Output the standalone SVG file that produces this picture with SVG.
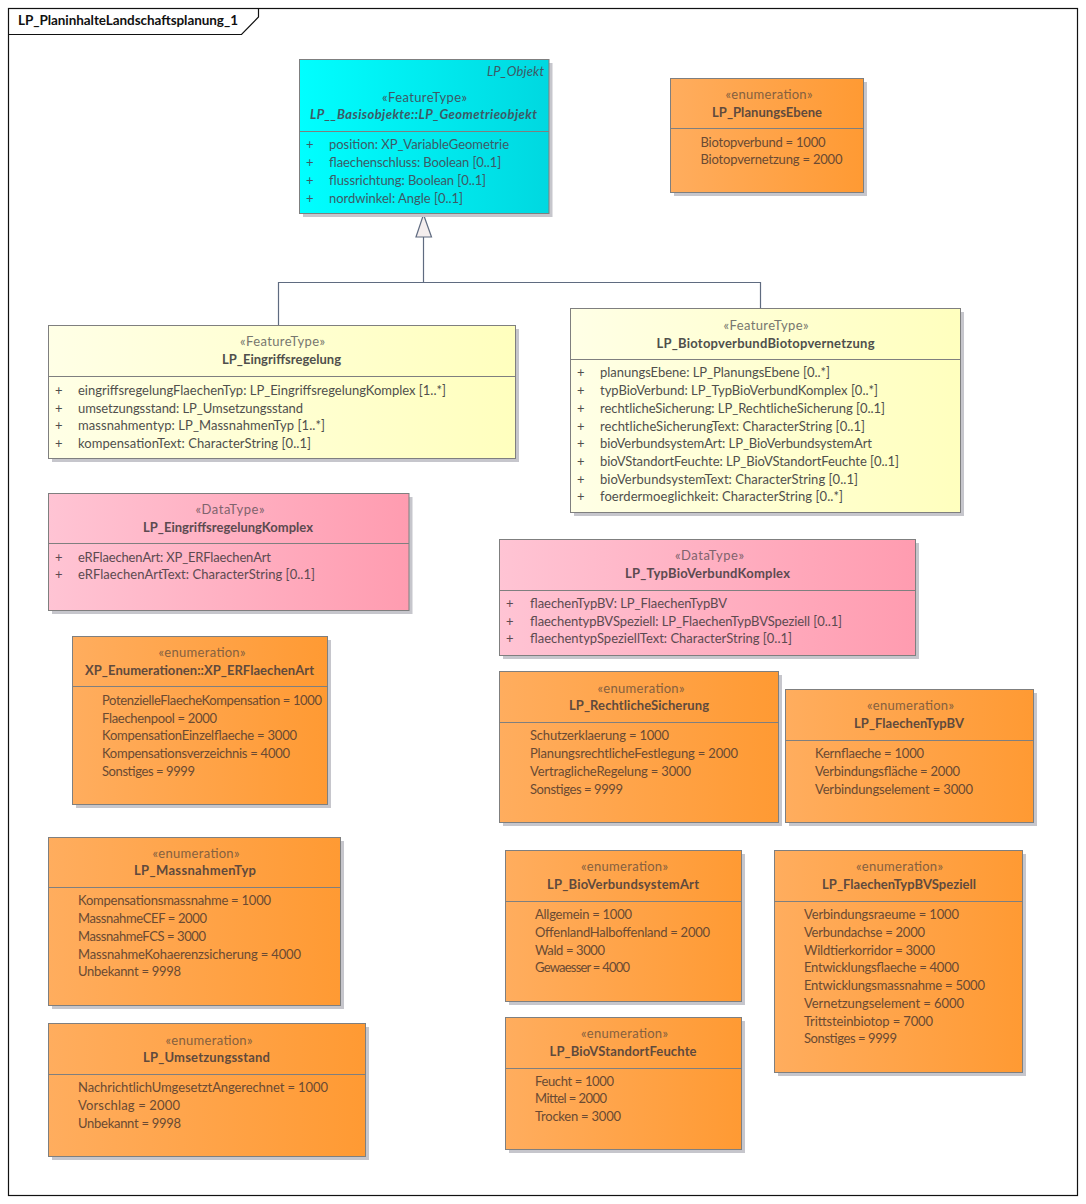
<svg xmlns="http://www.w3.org/2000/svg" width="1086" height="1204" viewBox="0 0 1086 1204">
<style>
text{font-family:Lato,"Liberation Sans",sans-serif;font-size:13px;fill:#4f4f4c}
.c{text-anchor:middle}
.b{font-weight:700}
.i{font-style:italic}
.s{fill:#77776f}
.box{stroke:#7f7f7f;stroke-width:1}
.sh{fill:#c6c6cc}
.d{stroke:#7f7f7f;stroke-width:1}
.en{fill:url(#or)}.ft{fill:url(#ye)}.dt{fill:url(#pk)}.cy{fill:url(#cy)}
g.o text{fill:#6a4a33}
g.o text.s{fill:#85603f}
g.o text.b{fill:#5f4a3d}
g.p text{fill:#5c4a50}
g.p text.s{fill:#80636d}
g.q text{fill:#3d5a66}
.ln{fill:none;stroke:#5f6b80;stroke-width:1.2}
</style>
<defs>
<linearGradient id="or"><stop offset="0" stop-color="#ffad5e"/><stop offset="1" stop-color="#ff9a33"/></linearGradient>
<linearGradient id="ye"><stop offset="0" stop-color="#ffffe6"/><stop offset="1" stop-color="#ffffbe"/></linearGradient>
<linearGradient id="pk"><stop offset="0" stop-color="#ffc4d4"/><stop offset="1" stop-color="#ff9cb0"/></linearGradient>
<linearGradient id="cy"><stop offset="0" stop-color="#00ffff"/><stop offset="1" stop-color="#00d8e0"/></linearGradient>
</defs>
<rect width="1086" height="1204" fill="#fff"/>
<g id="frame">
<rect x="8.500" y="8.500" width="1069" height="1187" fill="none" stroke="#111" stroke-width="1.200"/>
<path d="M8.500 34.500H241.500L258.500 17V8.500" fill="none" stroke="#111" stroke-width="1.200"/>
<text x="18" y="25" style="font-size:13.500px;fill:#111" class="b" textLength="220">LP_PlaninhalteLandschaftsplanung_1</text>
</g>
<g id="connectors">
<path class="ln" d="M423.500 237V282.500M278.500 325V282.500H760.500V308"/>
<path d="M423.500 214.500L431.500 237H416Z" fill="#f4eeee" stroke="#5f6b80" stroke-width="1.200"/>
</g>
<g id="LP_Geometrieobjekt" class="q">
<rect class="sh" x="303" y="63" width="249.500" height="154"/>
<rect class="box cy" x="299.500" y="59.500" width="249.500" height="154"/>
<path class="d" d="M299.500 131.500H549"/>
<text class="i" x="544" y="76" text-anchor="end" textLength="57">LP_Objekt</text>
<text class="c s" x="424.500" y="102" textLength="85">«FeatureType»</text>
<text class="c b i" x="423.500" y="119" textLength="227">LP__Basisobjekte::LP_Geometrieobjekt</text>
<text x="306" y="149">+</text><text x="329" y="149" textLength="180">position: XP_VariableGeometrie</text>
<text x="306" y="167">+</text><text x="329" y="167" textLength="172">flaechenschluss: Boolean [0..1]</text>
<text x="306" y="185">+</text><text x="329" y="185" textLength="157">flussrichtung: Boolean [0..1]</text>
<text x="306" y="203">+</text><text x="329" y="203" textLength="134">nordwinkel: Angle [0..1]</text>
</g>
<g id="LP_PlanungsEbene" class="o">
<rect class="sh" x="674" y="82" width="193" height="114"/>
<rect class="box en" x="670.500" y="78.500" width="193" height="114"/>
<path class="d" d="M670.500 128.500H863.500"/>
<text class="c s" x="769" y="99" textLength="87">«enumeration»</text>
<text class="c b" x="767" y="117" textLength="110">LP_PlanungsEbene</text>
<text x="700.500" y="147" textLength="125">Biotopverbund = 1000</text>
<text x="700.500" y="164" textLength="142">Biotopvernetzung = 2000</text>
</g>
<g id="LP_Eingriffsregelung">
<rect class="sh" x="52" y="329" width="467" height="133"/>
<rect class="box ft" x="48.500" y="325.500" width="467" height="133"/>
<path class="d" d="M48.500 376.500H515.500"/>
<text class="c s" x="282.500" y="346" textLength="85">«FeatureType»</text>
<text class="c b" x="281.500" y="364" textLength="119">LP_Eingriffsregelung</text>
<text x="55" y="395">+</text><text x="78" y="395" textLength="368">eingriffsregelungFlaechenTyp: LP_EingriffsregelungKomplex [1..*]</text>
<text x="55" y="413">+</text><text x="78" y="413" textLength="225">umsetzungsstand: LP_Umsetzungsstand</text>
<text x="55" y="430">+</text><text x="78" y="430" textLength="247">massnahmentyp: LP_MassnahmenTyp [1..*]</text>
<text x="55" y="448">+</text><text x="78" y="448" textLength="233">kompensationText: CharacterString [0..1]</text>
</g>
<g id="LP_BiotopverbundBiotopvernetzung">
<rect class="sh" x="574" y="312" width="390" height="204"/>
<rect class="box ft" x="570.500" y="308.500" width="390" height="204"/>
<path class="d" d="M570.500 359.500H960.500"/>
<text class="c s" x="766" y="330" textLength="85">«FeatureType»</text>
<text class="c b" x="765.500" y="348" textLength="218">LP_BiotopverbundBiotopvernetzung</text>
<text x="577" y="377">+</text><text x="600" y="377" textLength="230">planungsEbene: LP_PlanungsEbene [0..*]</text>
<text x="577" y="395">+</text><text x="600" y="395" textLength="278">typBioVerbund: LP_TypBioVerbundKomplex [0..*]</text>
<text x="577" y="413">+</text><text x="600" y="413" textLength="285">rechtlicheSicherung: LP_RechtlicheSicherung [0..1]</text>
<text x="577" y="431">+</text><text x="600" y="431" textLength="265">rechtlicheSicherungText: CharacterString [0..1]</text>
<text x="577" y="448">+</text><text x="600" y="448" textLength="272">bioVerbundsystemArt: LP_BioVerbundsystemArt</text>
<text x="577" y="466">+</text><text x="600" y="466" textLength="299">bioVStandortFeuchte: LP_BioVStandortFeuchte [0..1]</text>
<text x="577" y="484">+</text><text x="600" y="484" textLength="258">bioVerbundsystemText: CharacterString [0..1]</text>
<text x="577" y="501">+</text><text x="600" y="501" textLength="243">foerdermoeglichkeit: CharacterString [0..*]</text>
</g>
<g id="LP_EingriffsregelungKomplex" class="p">
<rect class="sh" x="52" y="497" width="360.500" height="117"/>
<rect class="box dt" x="48.500" y="493.500" width="360.500" height="117"/>
<path class="d" d="M48.500 543.500H409"/>
<text class="c s" x="230" y="514" textLength="69">«DataType»</text>
<text class="c b" x="228" y="532" textLength="170">LP_EingriffsregelungKomplex</text>
<text x="55" y="562">+</text><text x="78" y="562" textLength="193">eRFlaechenArt: XP_ERFlaechenArt</text>
<text x="55" y="579">+</text><text x="78" y="579" textLength="237">eRFlaechenArtText: CharacterString [0..1]</text>
</g>
<g id="LP_TypBioVerbundKomplex" class="p">
<rect class="sh" x="503" y="543" width="416" height="116"/>
<rect class="box dt" x="499.500" y="539.500" width="416" height="116"/>
<path class="d" d="M499.500 590.500H915.500"/>
<text class="c s" x="709.500" y="560" textLength="69">«DataType»</text>
<text class="c b" x="707.500" y="578" textLength="165">LP_TypBioVerbundKomplex</text>
<text x="506" y="608">+</text><text x="530" y="608" textLength="197">flaechenTypBV: LP_FlaechenTypBV</text>
<text x="506" y="626">+</text><text x="530" y="626" textLength="312">flaechentypBVSpeziell: LP_FlaechenTypBVSpeziell [0..1]</text>
<text x="506" y="643">+</text><text x="530" y="643" textLength="262">flaechentypSpeziellText: CharacterString [0..1]</text>
</g>
<g id="XP_ERFlaechenArt" class="o">
<rect class="sh" x="76" y="640" width="255" height="168"/>
<rect class="box en" x="72.500" y="636.500" width="255" height="168"/>
<path class="d" d="M72.500 686.500H327.500"/>
<text class="c s" x="202" y="657" textLength="87">«enumeration»</text>
<text class="c b" x="199.500" y="675" textLength="229">XP_Enumerationen::XP_ERFlaechenArt</text>
<text x="102" y="705" textLength="220">PotenzielleFlaecheKompensation = 1000</text>
<text x="102" y="723" textLength="115">Flaechenpool = 2000</text>
<text x="102" y="740" textLength="195">KompensationEinzelflaeche = 3000</text>
<text x="102" y="758" textLength="188">Kompensationsverzeichnis = 4000</text>
<text x="102" y="776" textLength="93">Sonstiges = 9999</text>
</g>
<g id="LP_MassnahmenTyp" class="o">
<rect class="sh" x="52" y="841" width="292" height="168"/>
<rect class="box en" x="48.500" y="837.500" width="292" height="168"/>
<path class="d" d="M48.500 887.500H340.500"/>
<text class="c s" x="196" y="858" textLength="87">«enumeration»</text>
<text class="c b" x="195" y="875" textLength="122">LP_MassnahmenTyp</text>
<text x="78" y="905" textLength="193">Kompensationsmassnahme = 1000</text>
<text x="78" y="923" textLength="129">MassnahmeCEF = 2000</text>
<text x="78" y="941" textLength="128">MassnahmeFCS = 3000</text>
<text x="78" y="959" textLength="223">MassnahmeKohaerenzsicherung = 4000</text>
<text x="78" y="976" textLength="103">Unbekannt = 9998</text>
</g>
<g id="LP_Umsetzungsstand" class="o">
<rect class="sh" x="52" y="1027" width="317" height="133"/>
<rect class="box en" x="48.500" y="1023.500" width="317" height="133"/>
<path class="d" d="M48.500 1074.500H365.500"/>
<text class="c s" x="209" y="1045" textLength="87">«enumeration»</text>
<text class="c b" x="206.500" y="1062" textLength="127">LP_Umsetzungsstand</text>
<text x="78" y="1092" textLength="250">NachrichtlichUmgesetztAngerechnet = 1000</text>
<text x="78" y="1110" textLength="102">Vorschlag = 2000</text>
<text x="78" y="1128" textLength="103">Unbekannt = 9998</text>
</g>
<g id="LP_RechtlicheSicherung" class="o">
<rect class="sh" x="503" y="675" width="279" height="151"/>
<rect class="box en" x="499.500" y="671.500" width="279" height="151"/>
<path class="d" d="M499.500 722.500H778.500"/>
<text class="c s" x="641" y="693" textLength="87">«enumeration»</text>
<text class="c b" x="639" y="710" textLength="140">LP_RechtlicheSicherung</text>
<text x="530" y="740" textLength="139">Schutzerklaerung = 1000</text>
<text x="530" y="758" textLength="208">PlanungsrechtlicheFestlegung = 2000</text>
<text x="530" y="776" textLength="161">VertraglicheRegelung = 3000</text>
<text x="530" y="794" textLength="93">Sonstiges = 9999</text>
</g>
<g id="LP_FlaechenTypBV" class="o">
<rect class="sh" x="789" y="693" width="248" height="133"/>
<rect class="box en" x="785.500" y="689.500" width="248" height="133"/>
<path class="d" d="M785.500 740.500H1033.500"/>
<text class="c s" x="910.500" y="710" textLength="87">«enumeration»</text>
<text class="c b" x="909" y="728" textLength="110">LP_FlaechenTypBV</text>
<text x="815" y="758" textLength="109">Kernflaeche = 1000</text>
<text x="815" y="776" textLength="145">Verbindungsfläche = 2000</text>
<text x="815" y="794" textLength="158">Verbindungselement = 3000</text>
</g>
<g id="LP_BioVerbundsystemArt" class="o">
<rect class="sh" x="509" y="854" width="236" height="151"/>
<rect class="box en" x="505.500" y="850.500" width="236" height="151"/>
<path class="d" d="M505.500 901.500H741.500"/>
<text class="c s" x="624.500" y="871" textLength="87">«enumeration»</text>
<text class="c b" x="623" y="889" textLength="152">LP_BioVerbundsystemArt</text>
<text x="535" y="919" textLength="97">Allgemein = 1000</text>
<text x="535" y="937" textLength="175">OffenlandHalboffenland = 2000</text>
<text x="535" y="955" textLength="70">Wald = 3000</text>
<text x="535" y="972" textLength="95">Gewaesser = 4000</text>
</g>
<g id="LP_BioVStandortFeuchte" class="o">
<rect class="sh" x="509" y="1021" width="236" height="132"/>
<rect class="box en" x="505.500" y="1017.500" width="236" height="132"/>
<path class="d" d="M505.500 1068.500H741.500"/>
<text class="c s" x="624.500" y="1038" textLength="87">«enumeration»</text>
<text class="c b" x="623" y="1056" textLength="147">LP_BioVStandortFeuchte</text>
<text x="535" y="1086" textLength="79">Feucht = 1000</text>
<text x="535" y="1103" textLength="72">Mittel = 2000</text>
<text x="535" y="1121" textLength="86">Trocken = 3000</text>
</g>
<g id="LP_FlaechenTypBVSpeziell" class="o">
<rect class="sh" x="778" y="854" width="248" height="222"/>
<rect class="box en" x="774.500" y="850.500" width="248" height="222"/>
<path class="d" d="M774.500 901.500H1022.500"/>
<text class="c s" x="899.500" y="871" textLength="87">«enumeration»</text>
<text class="c b" x="899" y="889" textLength="154">LP_FlaechenTypBVSpeziell</text>
<text x="804" y="919" textLength="155">Verbindungsraeume = 1000</text>
<text x="804" y="937" textLength="121">Verbundachse = 2000</text>
<text x="804" y="955" textLength="131">Wildtierkorridor = 3000</text>
<text x="804" y="972" textLength="155">Entwicklungsflaeche = 4000</text>
<text x="804" y="990" textLength="181">Entwicklungsmassnahme = 5000</text>
<text x="804" y="1008" textLength="160">Vernetzungselement = 6000</text>
<text x="804" y="1026" textLength="129">Trittsteinbiotop = 7000</text>
<text x="804" y="1043" textLength="93">Sonstiges = 9999</text>
</g>
</svg>
